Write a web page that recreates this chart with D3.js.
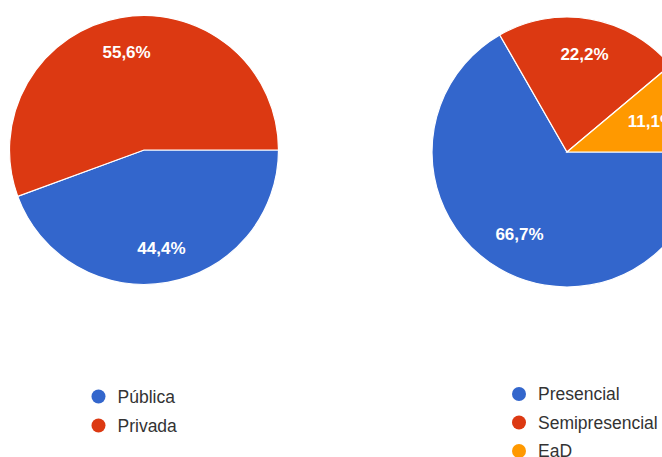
<!DOCTYPE html>
<html>
<head>
<meta charset="utf-8">
<script src="https://cdn.jsdelivr.net/npm/d3@7"></script>
<style>
  html, body { margin: 0; padding: 0; background: #ffffff; }
  svg { display: block; }
</style>
</head>
<body>
<svg id="chart" width="662" height="457"></svg>
<script>
// ---- data ----
const leftCategories = ["Pública", "Privada"];
const leftValues = [44.4, 55.6];
const rightCategories = ["Presencial", "Semipresencial", "EaD"];
const rightValues = [66.7, 22.2, 11.1];
const palette = ["#3366cc", "#dc3912", "#ff9900"];

const svg = d3.select("#chart");
const fontFamily = "'Liberation Sans', Arial, sans-serif";

function drawPie(cfg) {
  const { categories, values, cx, cy, r, legendX, legendY, legendStep } = cfg;
  const color = d3.scaleOrdinal().domain(categories).range(palette);
  const pie = d3.pie().sort(null).startAngle(Math.PI / 2).endAngle(Math.PI / 2 + 2 * Math.PI);
  const arcs = pie(values);
  const arc = d3.arc().innerRadius(0).outerRadius(r);
  const total = d3.sum(values);
  const g = svg.append("g").attr("transform", `translate(${cx},${cy})`);

  g.selectAll("path").data(arcs).join("path")
    .attr("d", arc)
    .attr("fill", (d, i) => color(categories[i]))
    .attr("stroke", "#ffffff")
    .attr("stroke-width", 1.2);

  const fmt = v => (v / total * 100).toFixed(1).replace(".", ",") + "%";

  arcs.forEach((d, i) => {
    const mid = (d.startAngle + d.endAngle) / 2;
    const t = g.append("text")
      .attr("text-anchor", "middle")
      .attr("dy", "0.35em")
      .attr("fill", "#ffffff")
      .attr("font-family", fontFamily)
      .attr("font-size", 17)
      .attr("font-weight", "bold")
      .text(fmt(d.value));
    const bb = t.node().getBBox();
    const hw = bb.width / 2, hh = bb.height / 2 - 2;
    let rho = r * 0.74;
    for (; rho > 0; rho -= 1) {
      const x = rho * Math.sin(mid), y = -rho * Math.cos(mid);
      const fx = Math.abs(x) + hw, fy = Math.abs(y) + hh;
      if (Math.hypot(fx, fy) <= r * 0.855) break;
    }
    t.attr("x", rho * Math.sin(mid)).attr("y", -rho * Math.cos(mid));
  });

  const lg = svg.append("g");
  categories.forEach((c, i) => {
    const y = legendY + i * legendStep;
    lg.append("circle").attr("cx", legendX).attr("cy", y).attr("r", 7).attr("fill", color(c));
    lg.append("text")
      .attr("x", legendX + 19)
      .attr("y", y)
      .attr("dy", "0.36em")
      .attr("fill", "#333333")
      .attr("font-family", fontFamily)
      .attr("font-size", 17.5)
      .text(c);
  });
}

drawPie({ categories: leftCategories, values: leftValues, cx: 144, cy: 150, r: 134.5,
          legendX: 98.5, legendY: 396.5, legendStep: 29 });
drawPie({ categories: rightCategories, values: rightValues, cx: 567, cy: 152, r: 135,
          legendX: 519, legendY: 394, legendStep: 28.5 });
</script>
</body>
</html>
